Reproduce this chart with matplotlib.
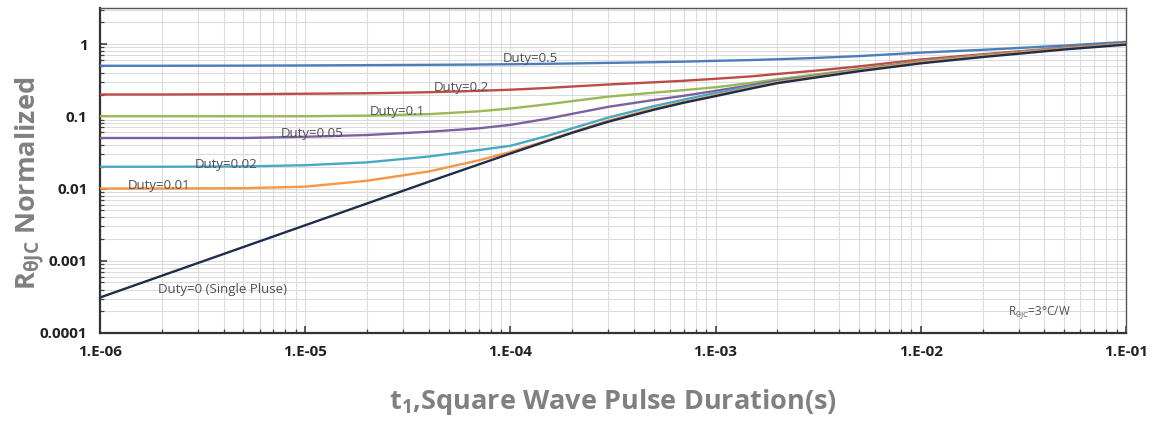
import matplotlib
matplotlib.use("Agg")
import matplotlib.pyplot as plt
from matplotlib.ticker import LogLocator, NullFormatter, FixedLocator

plt.rcParams['font.family'] = ['Open Sans', 'DejaVu Sans']
plt.rcParams['mathtext.fontset'] = 'custom'
plt.rcParams['mathtext.rm'] = 'Open Sans:bold'
plt.rcParams['mathtext.bf'] = 'Open Sans:bold'
plt.rcParams['mathtext.it'] = 'Open Sans:bold'

# pulse duration (s)
t = [1e-6, 2e-6, 5e-6, 1e-5, 2e-5, 4e-5, 7e-5, 1e-4, 1.5e-4, 2e-4, 3e-4,
     5e-4, 7e-4, 1e-3, 1.5e-3, 2e-3, 3e-3, 5e-3, 1e-2, 2e-2, 5e-2, 1e-1]

duty_05 = [0.5, 0.5, 0.502, 0.505, 0.51, 0.515, 0.52, 0.525, 0.532, 0.538, 0.548,
           0.56, 0.57, 0.585, 0.60, 0.615, 0.64, 0.68, 0.76, 0.83, 0.95, 1.07]
duty_02 = [0.2, 0.2, 0.202, 0.205, 0.208, 0.215, 0.225, 0.233, 0.246, 0.258, 0.275,
           0.295, 0.31, 0.33, 0.357, 0.385, 0.425, 0.49, 0.61, 0.72, 0.89, 1.03]
duty_01 = [0.1, 0.1, 0.1, 0.1, 0.102, 0.107, 0.117, 0.128, 0.146, 0.162, 0.187,
           0.212, 0.23, 0.252, 0.29, 0.325, 0.375, 0.45, 0.58, 0.70, 0.88, 1.02]
duty_005 = [0.05, 0.05, 0.05, 0.052, 0.055, 0.061, 0.068, 0.076, 0.092, 0.108, 0.135,
            0.168, 0.192, 0.225, 0.27, 0.31, 0.36, 0.44, 0.57, 0.69, 0.87, 1.01]
duty_002 = [0.02, 0.02, 0.0202, 0.021, 0.023, 0.0277, 0.034, 0.039, 0.053, 0.068, 0.096,
            0.138, 0.17, 0.21, 0.26, 0.30, 0.355, 0.435, 0.565, 0.685, 0.86, 1.0]
duty_001 = [0.01, 0.01, 0.0101, 0.0106, 0.0128, 0.0172, 0.0245, 0.032, 0.046, 0.06, 0.087,
            0.127, 0.158, 0.195, 0.25, 0.295, 0.35, 0.43, 0.56, 0.68, 0.86, 1.0]
duty_0 = [0.00031, 0.00062, 0.00155, 0.0031, 0.0062, 0.0124, 0.0215, 0.0305, 0.045, 0.059, 0.084,
          0.123, 0.154, 0.19, 0.243, 0.287, 0.34, 0.42, 0.54, 0.66, 0.84, 0.98]

series = [
    ("Duty=0.5", duty_05, "#4a7ebb", 1.25e-4, 0.64),
    ("Duty=0.2", duty_02, "#be4b48", 5.74e-5, 0.254),
    ("Duty=0.1", duty_01, "#98b954", 2.8e-5, 0.115),
    ("Duty=0.05", duty_005, "#7d60a0", 1.08e-5, 0.057),
    ("Duty=0.02", duty_002, "#46aac5", 4.11e-6, 0.0218),
    ("Duty=0.01", duty_001, "#f79646", 1.94e-6, 0.0109),
    ("Duty=0 (Single Pluse)", duty_0, "#1f2d4d", 3.94e-6, 0.000398),
]

x_ticks = [1e-6, 1e-5, 1e-4, 1e-3, 1e-2, 1e-1]
x_tick_labels = ["1.E-06", "1.E-05", "1.E-04", "1.E-03", "1.E-02", "1.E-01"]
y_ticks = [1e-4, 1e-3, 1e-2, 1e-1, 1]
y_tick_labels = ["0.0001", "0.001", "0.01", "0.1", "1"]

fig = plt.figure(figsize=(11.56, 4.34), dpi=100)
ax = fig.add_axes([100/1156, 1-333/434, 1026/1156, 325/434])
ax.set_xscale('log')
ax.set_yscale('log')
ax.set_xlim(1e-6, 1e-1)
ax.set_ylim(1e-4, 3.15)

for name, vals, col, lx, ly in series:
    ax.plot(t, vals, color=col, lw=1.7, zorder=3, solid_capstyle='round')
    ax.text(lx, ly, name, fontsize=9.5, color='#505050', ha='center', va='center', zorder=4)

ax.text(0.038, 0.000188, r"R$_{\mathregular{θJC}}$=3°C/W", fontsize=8.5, color='#505050',
        ha='center', va='center', zorder=4)

ax.xaxis.set_major_locator(FixedLocator(x_ticks))
ax.set_xticklabels(x_tick_labels)
ax.xaxis.set_minor_locator(LogLocator(base=10, subs=range(2, 10), numticks=20))
ax.xaxis.set_minor_formatter(NullFormatter())
ax.yaxis.set_major_locator(FixedLocator(y_ticks))
ax.set_yticklabels(y_tick_labels)
ax.yaxis.set_minor_locator(LogLocator(base=10, subs=range(2, 10), numticks=20))
ax.yaxis.set_minor_formatter(NullFormatter())

ax.grid(True, which='both', color='#dcdcdc', lw=0.8, zorder=0)
ax.set_axisbelow(True)

ax.tick_params(axis='both', which='both', direction='in', colors='#404040')
ax.tick_params(axis='both', which='major', length=5, width=1.2, labelsize=11, pad=9)
ax.tick_params(axis='both', which='minor', length=3, width=0.9)
for lab in ax.get_xticklabels() + ax.get_yticklabels():
    lab.set_fontweight('bold')
    lab.set_color('#222222')

for s in ['left', 'bottom']:
    ax.spines[s].set_color('#333333')
    ax.spines[s].set_linewidth(1.6)
for s in ['top', 'right']:
    ax.spines[s].set_color('#555555')
    ax.spines[s].set_linewidth(1.0)

ax.set_ylabel(r"R$_{\mathregular{θJC}}$ Normalized", fontsize=19.5, fontweight='bold',
              color='#808080')
ax.yaxis.set_label_coords(-0.052, 0.46)
ax.set_xlabel(r"t$_{\mathregular{1}}$,Square Wave Pulse Duration(s)", fontsize=19.5,
              fontweight='bold', color='#808080', labelpad=20)

fig.savefig("out.png", dpi=100)
